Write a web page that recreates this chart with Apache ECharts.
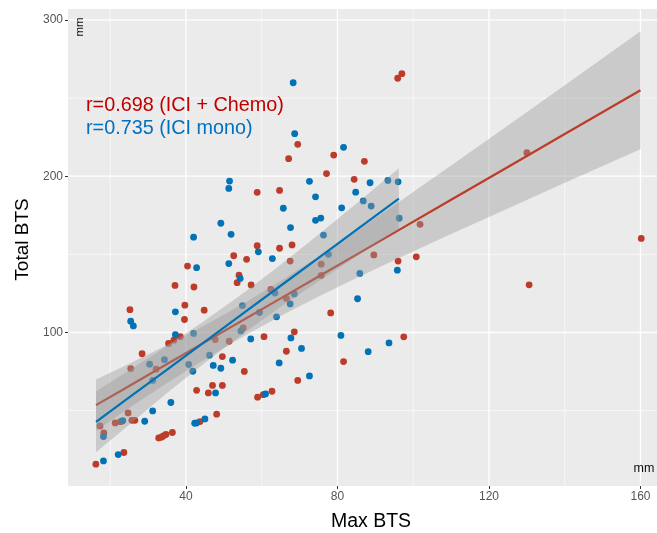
<!DOCTYPE html>
<html><head><meta charset="utf-8">
<script src="https://cdn.jsdelivr.net/npm/echarts@6/dist/echarts.min.js"></script>
<style>html,body{margin:0;padding:0;background:#fff}#c{width:657px;height:533px}</style>
</head><body><div id="c"></div>
<script>
// ICI + Chemo (red)
const chemoX = [58.8,58.8,52.6,56.0,40.4,54.0,53.5,37.1,42.1,57.2,25.2,39.7,44.8,39.6,35.4,36.8,38.5,28.4,25.4,32.1,47.7,49.6,55.4,51.4,60.6,42.8,47.0,49.6,45.9,48.1,58.9,60.4,62.7,24.7,25.7,26.5,21.3,22.7,17.3,18.3,32.8,33.5,34.0,34.7,36.4,43.7,23.6,16.2,62.4,66.5,67.5,75.7,75.7,68.6,66.5,69.5,78.2,69.5,67.1,79.0,87.1,77.1,84.4,64.7,64.7,68.0,89.6,96.0,100.8,55.1,97.5,81.6,95.9,97.0,101.8,130.0,160.2,130.6];
const chemoY = [189.7,155.5,149.1,146.8,142.5,136.7,131.9,130.1,129.1,130.4,114.6,117.5,114.3,108.3,93.0,95.1,97.3,86.4,76.9,76.5,95.5,84.6,75.1,94.4,97.3,63.0,66.1,66.1,61.3,47.7,58.6,60.2,62.4,48.5,43.8,43.8,42.1,42.9,40.2,35.7,32.5,33.0,33.8,34.7,36.0,43.0,23.2,15.7,127.5,121.8,145.7,143.7,136.5,100.4,88.0,69.3,112.5,220.4,211.2,213.5,209.5,201.7,198.0,190.9,153.9,156.0,149.6,145.7,148.4,102.9,97.2,81.4,262.7,265.6,169.2,215.0,160.2,130.5];
// ICI mono (blue)
const monoX = [51.5,51.3,49.2,51.9,42.0,59.1,51.3,42.8,54.3,54.9,37.2,25.4,26.1,37.2,42.0,30.4,34.3,31.2,40.7,41.8,46.2,47.2,49.2,52.3,57.1,47.8,61.0,36.0,31.2,29.1,23.3,18.2,42.3,42.8,45.0,22.1,18.2,63.5,67.5,68.6,63.9,67.7,70.5,64.6,72.6,68.3,68.7,81.6,72.6,88.6,93.3,96.0,74.2,84.8,86.8,88.9,65.7,81.1,74.2,75.6,67.6,76.3,96.3,62.8,77.6,95.8,85.9,85.3,59.4,54.5,80.9,93.6,88.1];
const monoY = [196.9,192.2,169.9,162.8,161.0,151.6,144.1,141.5,134.6,117.2,113.2,107.2,104.2,98.6,99.4,79.7,82.6,69.3,79.5,75.2,85.5,78.9,77.1,82.3,95.9,61.3,60.7,55.2,49.8,43.2,43.5,33.4,41.9,42.1,44.7,21.9,17.8,125.2,118.3,124.7,110.0,96.5,89.8,80.5,72.2,259.8,227.2,218.5,196.7,195.8,197.3,196.4,186.8,189.8,184.2,180.9,179.5,179.8,171.8,173.2,167.1,162.3,173.1,147.3,150.0,139.9,137.8,121.6,112.8,101.0,98.1,93.3,87.7];

// fitted lines and confidence bands
const chemoFitX  = [16.25,25,35,45,55,65,75,85,96.5,110,125,140,160];
const chemoFitY  = [53.5,65.8,79.8,93.8,107.8,121.8,135.8,149.8,166.0,184.9,205.9,227.0,255.0];
const chemoLower = [37.1,51.6,67.6,82.9,97.3,110.6,123.0,134.8,148.0,163.0,179.4,195.8,217.3];
const chemoUpper = [69.9,80.0,92.0,104.7,118.3,133.0,148.6,164.8,184.0,206.8,232.4,258.2,292.7];
const monoFitX  = [16.25,25,35,45,55,65,75,85,96.2];
const monoFitY  = [42.8,58.4,76.3,94.2,112.0,129.9,147.7,165.6,185.6];
const monoLower = [23.3,40.9,61.3,80.7,99.0,116.4,132.7,148.6,166.1];
const monoUpper = [62.3,75.9,91.3,107.7,125.0,143.4,162.7,182.6,205.1];

const xTicks = [40,80,120,160];
const yTicks = [100,200,300];
const xMinor = [20,60,100,140];
const yMinor = [50,150,250];

const FONT = '"Liberation Sans", Arial, sans-serif';
const RED = '#BC3C29', BLUE = '#0072B5';

const zip = (a,b) => a.map((v,i)=>[v,b[i]]);

function gridSeries(vals, vertical, width, z) {
  return {
    type:'custom', z, silent:true, clip:true,
    data: vals.map(v=>[v,v]),
    renderItem(params, api) {
      const cs = params.coordSys; const v = api.value(0);
      if (vertical) {
        const x = api.coord([v, 100])[0];
        return {type:'line', shape:{x1:x,y1:cs.y,x2:x,y2:cs.y+cs.height}, style:{stroke:'#ffffff', lineWidth:width}};
      } else {
        const y = api.coord([20, v])[1];
        return {type:'line', shape:{x1:cs.x,y1:y,x2:cs.x+cs.width,y2:y}, style:{stroke:'#ffffff', lineWidth:width}};
      }
    }
  };
}
function bandSeries(xs, lo, hi, z) {
  return {
    type:'custom', z, silent:true, clip:true,
    data:[[xs[0], lo[0]]],
    renderItem(params, api) {
      const pts = [];
      for (let i=0;i<xs.length;i++) pts.push(api.coord([xs[i], hi[i]]));
      for (let i=xs.length-1;i>=0;i--) pts.push(api.coord([xs[i], lo[i]]));
      return {type:'polygon', shape:{points:pts}, style:{fill:'rgba(153,153,153,0.4)'}};
    }
  };
}

const chart = echarts.init(document.getElementById('c'), null, {renderer:'canvas'});
chart.setOption({
  animation:false,
  grid:{left:68, right:0, top:9, bottom:47, show:true, backgroundColor:'#EBEBEB', borderWidth:0},
  xAxis:{type:'value', min:8.845, max:164.36,
    axisLine:{show:false}, splitLine:{show:false},
    axisTick:{show:true, customValues:xTicks, length:3, lineStyle:{color:'#333', width:1}},
    axisLabel:{customValues:xTicks, color:'#555', fontSize:12, margin:5, fontFamily:FONT}},
  yAxis:{type:'value', min:1.76, max:307,
    axisLine:{show:false}, splitLine:{show:false},
    axisTick:{show:true, customValues:yTicks, length:3, lineStyle:{color:'#333', width:1}},
    axisLabel:{customValues:yTicks, color:'#555', fontSize:12, margin:5, fontFamily:FONT}},
  series:[
    gridSeries(xMinor, true, 0.6, 1),
    gridSeries(yMinor, false, 0.6, 1),
    gridSeries(xTicks, true, 1.3, 1),
    gridSeries(yTicks, false, 1.3, 1),
    {type:'scatter', z:2, data:zip(chemoX, chemoY), symbolSize:6.8, itemStyle:{color:RED, opacity:1}, silent:true},
    {type:'scatter', z:2, data:zip(monoX, monoY), symbolSize:6.8, itemStyle:{color:BLUE, opacity:1}, silent:true},
    bandSeries(chemoFitX, chemoLower, chemoUpper, 3),
    {type:'line', z:4, data:zip(chemoFitX, chemoFitY), showSymbol:false, symbol:'none', lineStyle:{color:RED, width:2.2}, silent:true},
    bandSeries(monoFitX, monoLower, monoUpper, 5),
    {type:'line', z:6, data:zip(monoFitX, monoFitY), showSymbol:false, symbol:'none', lineStyle:{color:BLUE, width:2.2}, silent:true}
  ],
  graphic:[
    {type:'text', x:86, y:105.5, z:10, style:{text:'r=0.698 (ICI + Chemo)', fill:'#C00000', font:'19.8px '+FONT, textVerticalAlign:'middle'}},
    {type:'text', x:86, y:129, z:10, style:{text:'r=0.735 (ICI mono)', fill:'#0070C0', font:'19.8px '+FONT, textVerticalAlign:'middle'}},
    {type:'text', x:80, y:27, z:10, rotation:Math.PI/2, style:{text:'mm', fill:'#111', font:'11.5px '+FONT, textAlign:'center', textVerticalAlign:'middle'}},
    {type:'text', x:644, y:468.5, z:10, style:{text:'mm', fill:'#111', font:'12.5px '+FONT, textAlign:'center', textVerticalAlign:'middle'}},
    {type:'text', x:371, y:521.5, z:10, style:{text:'Max BTS', fill:'#000', font:'19.5px '+FONT, textAlign:'center', textVerticalAlign:'middle'}},
    {type:'text', x:22.5, y:239.5, z:10, rotation:Math.PI/2, style:{text:'Total BTS', fill:'#000', font:'19px '+FONT, textAlign:'center', textVerticalAlign:'middle'}}
  ]
});
</script>
</body></html>
